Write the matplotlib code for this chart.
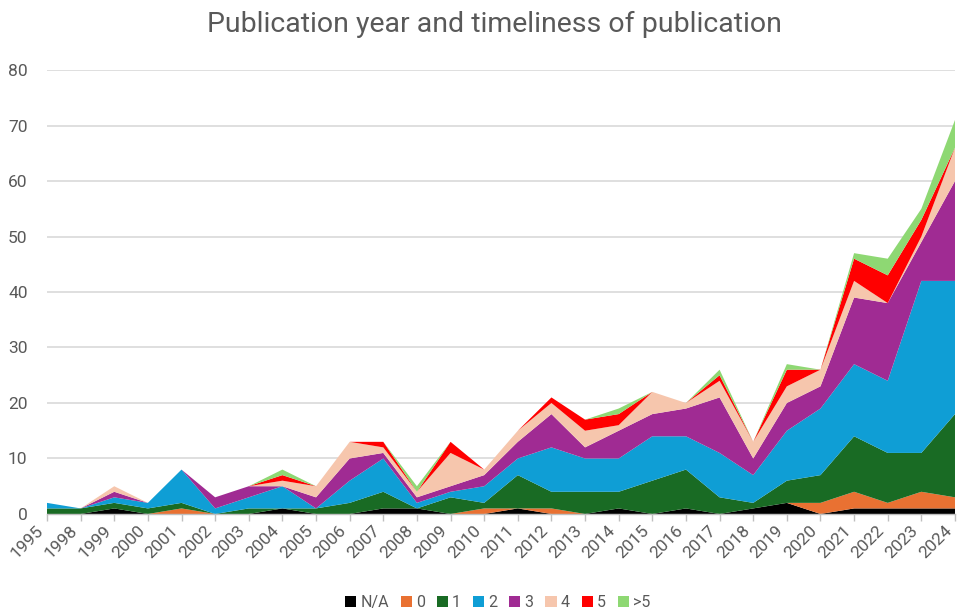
import matplotlib
matplotlib.use("Agg")
import matplotlib.pyplot as plt
import matplotlib.transforms as mtransforms
from matplotlib.patches import Patch
import numpy as np

plt.rcParams['font.family'] = ['Roboto', 'DejaVu Sans']

years = ['1995', '1998', '1999', '2000', '2001', '2002', '2003', '2004', '2005', '2006',
         '2007', '2008', '2009', '2010', '2011', '2012', '2013', '2014', '2015', '2016',
         '2017', '2018', '2019', '2020', '2021', '2022', '2023', '2024']

# Number of publications per year, by timeliness category
na_vals   = [0, 0, 1, 0, 0, 0, 0, 1, 0, 0, 1, 1, 0, 0, 1, 0, 0, 1, 0, 1, 0, 1, 2, 0, 1, 1, 1, 1]
zero_vals = [0, 0, 0, 0, 1, 0, 0, 0, 0, 0, 0, 0, 0, 1, 0, 1, 0, 0, 0, 0, 0, 0, 0, 2, 3, 1, 3, 2]
one_vals  = [1, 1, 1, 1, 1, 0, 1, 0, 1, 2, 3, 0, 3, 1, 6, 3, 4, 3, 6, 7, 3, 1, 4, 5, 10, 9, 7, 15]
two_vals  = [1, 0, 1, 1, 6, 1, 2, 4, 0, 4, 6, 1, 1, 3, 3, 8, 6, 6, 8, 6, 8, 5, 9, 12, 13, 13, 31, 24]
three_vals = [0, 0, 1, 0, 0, 2, 2, 0, 2, 4, 1, 1, 1, 2, 3, 6, 2, 5, 4, 5, 10, 3, 5, 4, 12, 14, 7, 18]
four_vals = [0, 0, 1, 0, 0, 0, 0, 1, 2, 3, 1, 1, 6, 1, 2, 2, 3, 1, 4, 1, 3, 3, 3, 3, 3, 0, 1, 6]
five_vals = [0, 0, 0, 0, 0, 0, 0, 1, 0, 0, 1, 0, 2, 0, 0, 1, 2, 2, 0, 0, 1, 0, 3, 0, 4, 5, 3, 0]
gt5_vals  = [0, 0, 0, 0, 0, 0, 0, 1, 0, 0, 0, 1, 0, 0, 0, 0, 0, 1, 0, 0, 1, 0, 1, 0, 1, 3, 2, 5]

series_labels = ['N/A', '0', '1', '2', '3', '4', '5', '>5']
series_colors = ['#000000', '#E97132', '#196B24', '#0F9ED5', '#A02B93', '#F6C6AD', '#FF0000', '#8ED873']
series = [na_vals, zero_vals, one_vals, two_vals, three_vals, four_vals, five_vals, gt5_vals]

text_color = '#595959'

fig = plt.figure(figsize=(9.57, 6.11), dpi=100)
ax = fig.add_axes([0.0491, 0.1588, 0.9488, 0.7266])

x = np.arange(len(years))
ax.stackplot(x, *series, colors=series_colors, labels=series_labels, linewidth=0)

ax.set_xlim(0, len(years) - 1)
ax.set_ylim(0, 80)
ax.set_yticks(range(0, 81, 10))
ax.yaxis.grid(True, color='#D9D9D9', linewidth=1.2)
ax.set_axisbelow(True)

ax.set_xticks(x)
ax.set_xticklabels(years, rotation=45, ha='right', va='top', rotation_mode='anchor')
ax.tick_params(axis='x', colors='#BFBFBF', labelcolor=text_color, labelsize=12.5,
               length=5, width=1, direction='out', pad=2)
ax.tick_params(axis='y', length=0, labelcolor=text_color, labelsize=12.5, pad=14)

# nudge the rotated year labels to the left so the last one stays inside
shift = mtransforms.ScaledTranslation(-11 / 100, 1 / 100, fig.dpi_scale_trans)
for lab in ax.get_xticklabels():
    lab.set_transform(lab.get_transform() + shift)

for side in ['top', 'right', 'left']:
    ax.spines[side].set_visible(False)
ax.spines['bottom'].set_color('#BFBFBF')
ax.spines['bottom'].set_linewidth(1)
ax.spines['bottom'].set_zorder(5)

fig.suptitle('Publication year and timeliness of publication', x=0.517, y=0.982,
             fontsize=20.5, color=text_color, va='top')

handles = [Patch(facecolor=c, edgecolor='none', label=l) for c, l in zip(series_colors, series_labels)]
fig.legend(handles=handles, loc='lower center', bbox_to_anchor=(0.52, -0.022), ncol=8,
           frameon=False, fontsize=11.5, labelcolor=text_color, handlelength=0.7,
           handleheight=0.7, handletextpad=0.25, columnspacing=0.75)

fig.savefig('out.png', dpi=100)
